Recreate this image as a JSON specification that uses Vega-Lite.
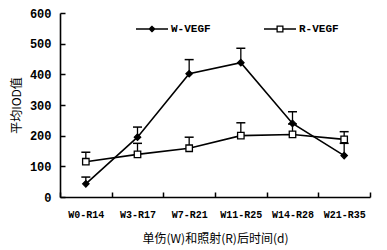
{
  "$schema": "https://vega.github.io/schema/vega-lite/v6.json",
  "width": 310,
  "height": 184,
  "autosize": "none",
  "padding": {"left": 60, "top": 13, "right": 17, "bottom": 53},
  "background": "white",
  "config": {
    "view": {"stroke": null},
    "axis": {"grid": false, "domainColor": "black", "tickColor": "black", "labelColor": "black", "titleColor": "black", "domainWidth": 1.6, "tickWidth": 1.5},
    "axisY": {"labelOverlap": false},
    "legend": {"title": null, "orient": "none", "padding": 0, "symbolSize": 1024, "symbolStrokeWidth": 1.5, "symbolStrokeColor": "black", "labelOffset": 2, "labelFont": "Liberation Mono", "labelFontWeight": "bold", "labelFontSize": 11, "labelColor": "black", "symbolOpacity": 1}
  },
  "data": {
    "values": [
      {"cat": "W0-R14", "series": "W-VEGF", "value": 43, "upper": 65},
      {"cat": "W3-R17", "series": "W-VEGF", "value": 195, "upper": 228},
      {"cat": "W7-R21", "series": "W-VEGF", "value": 402, "upper": 448},
      {"cat": "W11-R25", "series": "W-VEGF", "value": 438, "upper": 485},
      {"cat": "W14-R28", "series": "W-VEGF", "value": 240, "upper": 278},
      {"cat": "W21-R35", "series": "W-VEGF", "value": 135, "upper": 175},
      {"cat": "W0-R14", "series": "R-VEGF", "value": 115, "upper": 146},
      {"cat": "W3-R17", "series": "R-VEGF", "value": 139, "upper": 175},
      {"cat": "W7-R21", "series": "R-VEGF", "value": 159, "upper": 195},
      {"cat": "W11-R25", "series": "R-VEGF", "value": 200, "upper": 242},
      {"cat": "W14-R28", "series": "R-VEGF", "value": 204, "upper": 238},
      {"cat": "W21-R35", "series": "R-VEGF", "value": 188, "upper": 213}
    ]
  },
  "encoding": {
    "x": {
      "field": "cat",
      "type": "nominal",
      "sort": ["W0-R14", "W3-R17", "W7-R21", "W11-R25", "W14-R28", "W21-R35"],
      "scale": {"type": "band", "paddingInner": 0, "paddingOuter": 0},
      "axis": {
        "title": "单伤(W)和照射(R)后时间(d)",
        "labelAngle": 0,
        "tickBand": "extent",
        "tickSize": -5,
        "labelPadding": 17,
        "labelFont": "Liberation Mono",
        "labelFontWeight": "bold",
        "labelFontSize": 10,
        "titleFont": "Noto Sans CJK SC",
        "titleFontSize": 12,
        "titleFontWeight": "normal",
        "titlePadding": 14
      }
    },
    "y": {
      "field": "value",
      "type": "quantitative",
      "scale": {"domain": [0, 600]},
      "axis": {
        "title": "平均IOD值",
        "values": [0, 100, 200, 300, 400, 500, 600],
        "tickSize": -5,
        "labelOverlap": false,
        "labelFlush": false,
        "labelPadding": 14,
        "labelFont": "Liberation Mono",
        "labelFontWeight": "bold",
        "labelFontSize": 12,
        "titleFont": "Noto Sans CJK SC",
        "titleFontSize": 12,
        "titleFontWeight": "normal",
        "titlePadding": 6
      }
    }
  },
  "layer": [
    {
      "mark": {"type": "line", "color": "black", "strokeWidth": 1.6},
      "encoding": {
        "detail": {"field": "series", "type": "nominal"}
      }
    },
    {
      "transform": [{"filter": "datum.series === 'W-VEGF'"}],
      "mark": {"type": "rule", "color": "black", "strokeWidth": 1.3},
      "encoding": {
        "y2": {"field": "upper"},
        "strokeDash": {
          "field": "series",
          "type": "nominal",
          "scale": {"range": [[1, 0]]},
          "legend": {
            "legendX": 75,
            "legendY": -1,
            "symbolType": "M-1,0H1M-0.16,0L0,-0.16L0.16,0L0,0.16Z",
            "encode": {"symbols": {"update": {"fill": {"value": "black"}, "stroke": {"value": "black"}, "strokeWidth": {"value": 1.5}}}}
          }
        }
      }
    },
    {
      "transform": [{"filter": "datum.series === 'R-VEGF'"}],
      "mark": {"type": "rule", "color": "black", "strokeWidth": 1.3},
      "encoding": {
        "y2": {"field": "upper"},
        "strokeWidth": {
          "field": "series",
          "type": "nominal",
          "scale": {"type": "ordinal", "range": [1.3]},
          "legend": {
            "legendX": 203,
            "legendY": -1,
            "symbolType": "M-1,0H-0.18M0.18,0H1M-0.18,-0.18H0.18V0.18H-0.18Z",
            "encode": {"symbols": {"update": {"fill": {"value": "white"}, "stroke": {"value": "black"}, "strokeWidth": {"value": 1.5}}}}
          }
        }
      }
    },
    {
      "mark": {"type": "tick", "color": "black", "thickness": 1.5, "size": 9, "opacity": 1},
      "encoding": {
        "y": {
          "field": "upper",
          "type": "quantitative",
          "scale": {"domain": [0, 600]},
          "axis": {
            "title": "平均IOD值",
            "values": [0, 100, 200, 300, 400, 500, 600],
            "tickSize": -5,
            "labelOverlap": false,
            "labelFlush": false,
            "labelPadding": 14,
            "labelFont": "Liberation Mono",
            "labelFontWeight": "bold",
            "labelFontSize": 12,
            "titleFont": "Noto Sans CJK SC",
            "titleFontSize": 12,
            "titleFontWeight": "normal",
            "titlePadding": 6
          }
        }
      }
    },
    {
      "transform": [{"filter": "datum.series === 'W-VEGF'"}],
      "mark": {"type": "point", "shape": "diamond", "filled": true, "color": "black", "stroke": "black", "strokeWidth": 1.2, "opacity": 1, "size": 42}
    },
    {
      "transform": [{"filter": "datum.series === 'R-VEGF'"}],
      "mark": {"type": "point", "shape": "square", "filled": true, "fill": "white", "stroke": "black", "strokeWidth": 1.3, "opacity": 1, "size": 42}
    }
  ],
  "resolve": {"scale": {"strokeDash": "independent", "strokeWidth": "independent"}, "legend": {"strokeDash": "independent", "strokeWidth": "independent"}}
}
